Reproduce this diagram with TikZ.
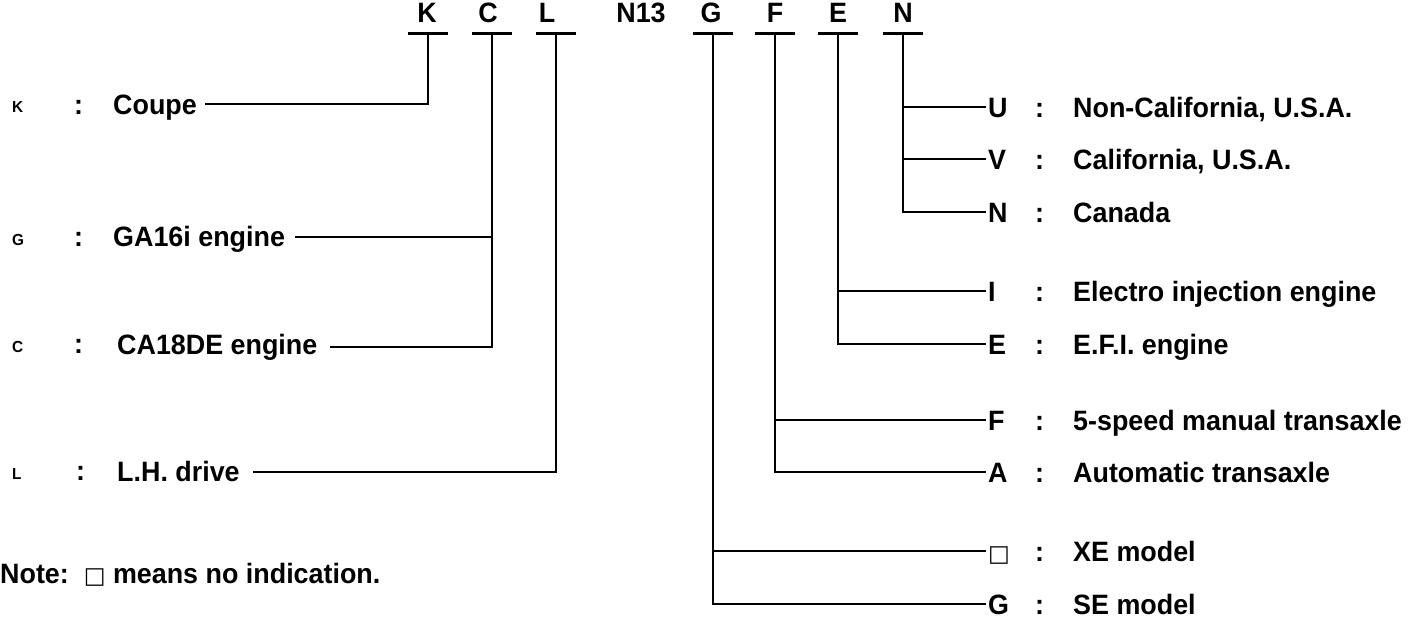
\documentclass[tikz,border=0pt]{standalone}
\usepackage{fontspec}
\setmainfont{Liberation Sans}[FakeStretch=0.96]
\newfontfamily\symfont{DejaVu Sans}
\newcommand{\sqbox}{{\symfont\fontsize{23}{25}\selectfont □}}
\begin{document}
\begin{tikzpicture}[x=1pt,y=-1pt,
  lab/.style={font=\fontsize{28}{30}\selectfont\bfseries,inner sep=0pt,anchor=base west},
  small/.style={font=\fontsize{16}{18}\selectfont\bfseries,inner sep=0pt,anchor=base west},
  hdr/.style={font=\fontsize{28}{30}\selectfont\bfseries,inner sep=0pt,anchor=base},
  wire/.style={line width=2.6pt},
  barline/.style={line width=3pt}]
\useasboundingbox (0,0) rectangle (1408,618);
% header
\node[hdr] (hK) at (427,23) {K};
\node[hdr] (hC) at (488,23) {C};
\node[hdr] (hL) at (547,23) {L};
\node[hdr] (hN13) at (641,23) {N13};
\node[hdr] (hG) at (711,23) {G};
\node[hdr] (hF) at (775,23) {F};
\node[hdr] (hE) at (838,23) {E};
\node[hdr] (hN) at (903,23) {N};
\foreach \n/\x in {K/428,C/492,L/556,G/713,F/775,E/838,N/903}{
  \coordinate (b\n) at (\x,34);
  \draw[barline] ([xshift=-20pt]b\n) -- ([xshift=20pt]b\n);
}
% left side
\node[small] (kK) at (12,112) {K};
\node[lab] (cK) at (74,114) {:};
\node[lab] (tK) at (113,114) {Coupe};
\coordinate (eK) at (205,104);
\node[small] (kG) at (12,245) {G};
\node[lab] (cG) at (74,246) {:};
\node[lab] (tG) at (113,246) {GA16i engine};
\coordinate (eG) at (295,237);
\node[small] (kC) at (12,352) {C};
\node[lab] (cC) at (74,353) {:};
\node[lab] (tC) at (117,354) {CA18DE engine};
\coordinate (eC) at (330,347);
\node[small] (kL) at (12,479) {L};
\node[lab] (cL) at (76,480) {:};
\node[lab] (tL) at (117,481) {L.H. drive};
\coordinate (eL) at (253,472);
\node[lab] (note) at (0,583) {Note:\ \ \sqbox\ means no indication.};
\draw[wire] (eK) -| (bK);
\draw[wire] (eC) -| (bC);
\draw[wire] (eG) -- (bC |- eG);
\draw[wire] (eL) -| (bL);
% right side
\foreach \n/\y/\l/\t in {U/107/U/{Non-California, U.S.A.},V/159/V/{California, U.S.A.},Nn/212/N/Canada,I/291/I/{Electro injection engine},Ee/344/E/{E.F.I. engine},Ff/420/F/{5-speed manual transaxle},A/472/A/{Automatic transaxle},X/551/{\sqbox}/{XE model},Gg/604/G/{SE model}}{
  \coordinate (r\n) at (986,\y);
  \node[lab] (l\n) at (988,\y+10) {\l};
  \node[lab] (c\n) at (1035,\y+10) {:};
  \node[lab] (t\n) at (1073,\y+10) {\t};
}
\draw[wire] (bN) |- (rNn);
\draw[wire] (bN |- rU) -- (rU);
\draw[wire] (bN |- rV) -- (rV);
\draw[wire] (bE) |- (rEe);
\draw[wire] (bE |- rI) -- (rI);
\draw[wire] (bF) |- (rA);
\draw[wire] (bF |- rFf) -- (rFf);
\draw[wire] (bG) |- (rGg);
\draw[wire] (bG |- rX) -- (rX);
\end{tikzpicture}
\end{document}
